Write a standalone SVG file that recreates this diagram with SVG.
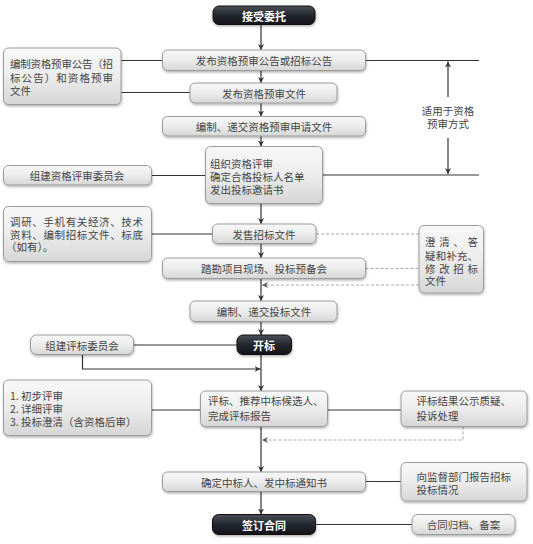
<svg xmlns="http://www.w3.org/2000/svg" width="533" height="544" viewBox="0 0 533 544">
<defs>
<linearGradient id="gl" x1="0" y1="0" x2="0" y2="1">
<stop offset="0" stop-color="#f8f8f8"/><stop offset="0.5" stop-color="#ececec"/><stop offset="1" stop-color="#d6d6d6"/>
</linearGradient>
<linearGradient id="gd" x1="0" y1="0" x2="0" y2="1">
<stop offset="0" stop-color="#4a4f57"/><stop offset="0.5" stop-color="#23272d"/><stop offset="1" stop-color="#121418"/>
</linearGradient>
<filter id="sh" x="-10%" y="-20%" width="120%" height="150%">
<feDropShadow dx="0.5" dy="1.5" stdDeviation="1" flood-color="#000" flood-opacity="0.3"/>
</filter>
<marker id="ah" viewBox="0 0 10 10" refX="10" refY="5" markerWidth="6" markerHeight="6" markerUnits="userSpaceOnUse" orient="auto">
<path d="M0,0 L10,5 L0,10 L3,5 Z" fill="#333"/>
</marker>
<marker id="ahd" viewBox="0 0 10 10" refX="10" refY="5" markerWidth="6" markerHeight="6" markerUnits="userSpaceOnUse" orient="auto">
<path d="M0,0 L10,5 L0,10 L3,5 Z" fill="#555"/>
</marker>
</defs>
<style>
.l{fill:url(#gl);stroke:#9c9c9c;stroke-width:1;filter:url(#sh)}
.d{fill:url(#gd);stroke:#111;stroke-width:1;filter:url(#sh)}
text{font-family:"Noto Sans CJK SC","Noto Sans",sans-serif;font-size:10.5px;fill:#444;dominant-baseline:central}
.c{text-anchor:middle}
.w{fill:#fff;font-weight:bold;font-size:11px}
.ln{fill:none;stroke:#333;stroke-width:1.2}
.ar{marker-end:url(#ah)}
.ds{fill:none;stroke:#a8a8a8;stroke-width:1;stroke-dasharray:3,2}
.dar{marker-end:url(#ahd)}
</style>
<rect width="533" height="544" fill="#fff"/>

<g id="connectors">
<path class="ln ar" d="M261,24.5V50"/>
<path class="ln ar" d="M261,70.5V83"/>
<path class="ln ar" d="M261,103V116.5"/>
<path class="ln ar" d="M261,136V146.5"/>
<path class="ln ar" d="M261,203.5V224"/>
<path class="ln ar" d="M261,243.5V258"/>
<path class="ln ar" d="M261,278.5V301"/>
<path class="ln ar" d="M261,321.5V335"/>
<path class="ln ar" d="M261,354.5V391"/>
<path class="ln ar" d="M261,426.5V472"/>
<path class="ln ar" d="M261,491.5V514.5"/>
<path class="ln" d="M121,60.5H162.5"/>
<path class="ln" d="M365.5,60.5H479"/>
<path class="ln" d="M121,92.5H190"/>
<path class="ln" d="M151,175.5H206"/>
<path class="ln" d="M322,175H479"/>
<path class="ln ar" d="M448,97V61.5"/>
<path class="ln ar" d="M448,138V174"/>
<path class="ln" d="M151,234H212.5"/>
<path class="ds" d="M316,234H419"/>
<path class="ds" d="M365.5,268.5H419"/>
<path class="ds dar" d="M419,285H262"/>
<path class="ln" d="M134,345H237"/>
<path class="ln ar" d="M82.5,354.5V369H260.5"/>
<path class="ln" d="M151,410H200.5"/>
<path class="ln" d="M327.5,410H401"/>
<path class="ds dar" d="M463,426.5V440H262"/>
<path class="ln" d="M365.5,481.5H401"/>
<path class="ln" d="M315.5,524.5H412"/>
</g>

<g id="n_accept"><rect class="d" x="213" y="6" width="102" height="18.5" rx="6"/><text class="c w" x="264" y="15.5">接受委托</text></g>
<g id="n_pub_notice"><rect class="l" x="162.5" y="50" width="203" height="20.5" rx="5"/><text class="c" x="264" y="60.5">发布资格预审公告或招标公告</text></g>
<g id="n_prep_notice"><rect class="l" x="3.5" y="48" width="117.5" height="56.5" rx="5"/>
<text x="10" y="63.5" textLength="103" lengthAdjust="spacing">编制资格预审公告（招</text>
<text x="10" y="77.5" textLength="103" lengthAdjust="spacing">标公告）和资格预审</text>
<text x="10" y="90.5">文件</text></g>
<g id="n_pub_doc"><rect class="l" x="190" y="83" width="147" height="20" rx="5"/><text class="c" x="264" y="93">发布资格预审文件</text></g>
<g id="n_submit_app"><rect class="l" x="162.5" y="116.5" width="203" height="19.5" rx="5"/><text class="c" x="264" y="126.5">编制、递交资格预审申请文件</text></g>
<g id="n_note_prequal"><text class="c" x="448" y="110">适用于资格</text><text class="c" x="448" y="123">预审方式</text></g>
<g id="n_review"><rect class="l" x="205.5" y="146.5" width="117" height="57" rx="5"/>
<text x="210" y="163">组织资格评审</text>
<text x="210" y="176">确定合格投标人名单</text>
<text x="210" y="189">发出投标邀请书</text></g>
<g id="n_committee1"><rect class="l" x="3.5" y="165.5" width="148" height="19.5" rx="5"/><text class="c" x="77" y="175.5">组建资格评审委员会</text></g>
<g id="n_sell"><rect class="l" x="212.5" y="224" width="103.5" height="19.5" rx="5"/><text class="c" x="264" y="234">发售招标文件</text></g>
<g id="n_research"><rect class="l" x="3.5" y="206.5" width="148" height="55" rx="5"/>
<text x="10" y="221.5" textLength="133" lengthAdjust="spacing">调研、手机有关经济、技术</text>
<text x="10" y="234.5" textLength="133" lengthAdjust="spacing">资料、编制招标文件、标底</text>
<text x="6" y="246.5">（如有）。</text></g>
<g id="n_clarify"><rect class="l" x="419" y="225.5" width="64.5" height="67.5" rx="5"/>
<text x="425" y="241" textLength="53" lengthAdjust="spacing">澄清、答</text>
<text x="425" y="255" textLength="53" lengthAdjust="spacing">疑和补充、</text>
<text x="425" y="268" textLength="53" lengthAdjust="spacing">修改招标</text>
<text x="425" y="280.5">文件</text></g>
<g id="n_site"><rect class="l" x="162.5" y="258" width="203" height="20.5" rx="5"/><text class="c" x="264" y="268.5">踏勘项目现场、投标预备会</text></g>
<g id="n_submit_bid"><rect class="l" x="190" y="301" width="147" height="20.5" rx="5"/><text class="c" x="264" y="311">编制、递交投标文件</text></g>
<g id="n_open"><rect class="d" x="237" y="335" width="54.5" height="19.5" rx="6"/><text class="c w" x="264" y="345">开标</text></g>
<g id="n_committee2"><rect class="l" x="30.5" y="335" width="103" height="19.5" rx="6"/><text class="c" x="82" y="345">组建评标委员会</text></g>
<g id="n_eval"><rect class="l" x="200.5" y="391" width="127" height="35.5" rx="5"/>
<text x="208" y="400.5">评标、推荐中标候选人、</text>
<text x="208" y="415.5">完成评标报告</text></g>
<g id="n_steps"><rect class="l" x="3.5" y="380" width="148" height="55.5" rx="5"/>
<text x="10" y="395">1. 初步评审</text>
<text x="10" y="408">2. 详细评审</text>
<text x="10" y="421">3. 投标澄清（含资格后审）</text></g>
<g id="n_publicity"><rect class="l" x="401" y="391" width="126" height="35.5" rx="5"/>
<text x="416.5" y="400.5">评标结果公示质疑、</text>
<text x="416.5" y="415.5">投诉处理</text></g>
<g id="n_award"><rect class="l" x="162.5" y="472" width="203" height="19.5" rx="5"/><text class="c" x="264" y="482">确定中标人、发中标通知书</text></g>
<g id="n_report"><rect class="l" x="401" y="462.5" width="126" height="38.5" rx="5"/>
<text x="416.5" y="476.5">向监督部门报告招标</text>
<text x="416.5" y="489.5">投标情况</text></g>
<g id="n_contract"><rect class="d" x="212.5" y="514.5" width="103" height="20" rx="6"/><text class="c w" x="264" y="524.5">签订合同</text></g>
<g id="n_archive"><rect class="l" x="412" y="514.5" width="103" height="20" rx="6"/><text class="c" x="463.5" y="524.5">合同归档、备案</text></g>
</svg>
